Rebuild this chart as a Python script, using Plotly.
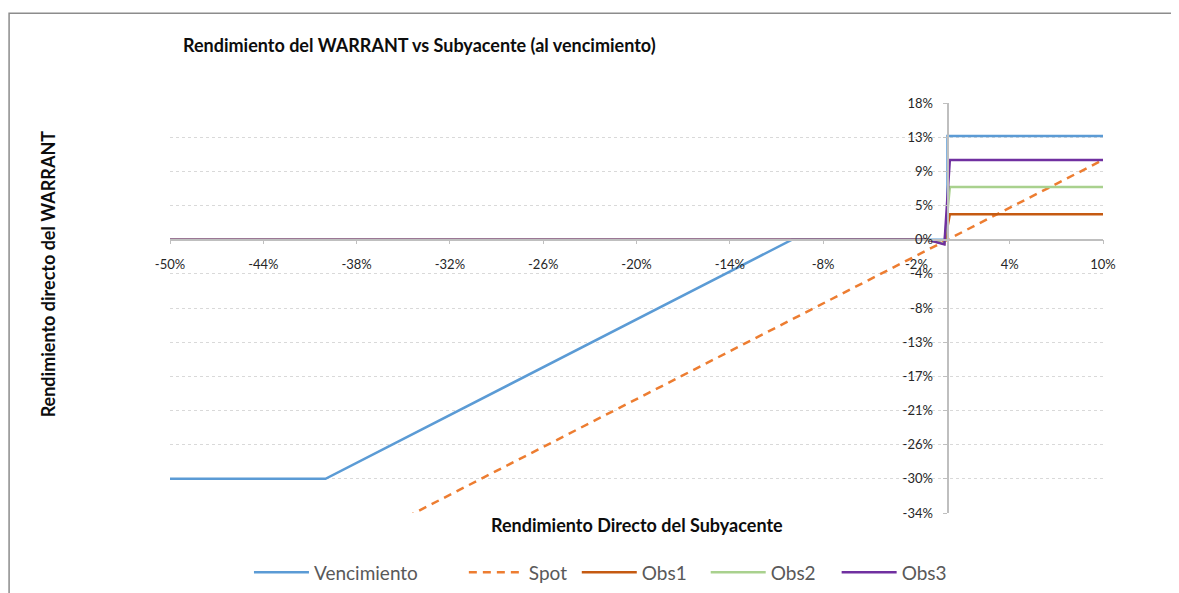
import plotly.graph_objects as go

# ---- data (percent units) ----
venc_x = [-50, -40, -10, 0, 0, 10]
venc_y = [-30, -30, 0, 0, 13, 13]

spot_x = [-50, 10]
spot_y = [-50, 10]

obs_x = [-50, -1.3, -0.2, 0.15, 10]
obs1_y = [0, 0, -0.5, 3.2, 3.2]
obs2_y = [0, 0, -0.5, 6.6, 6.6]
obs3_y = [0, 0, -0.6, 10, 10]

series_names = ["Vencimiento", "Spot", "Obs1", "Obs2", "Obs3"]

x_tickvals = [-50, -44, -38, -32, -26, -20, -14, -8, -2, 4, 10]
x_ticktext = ["-50%", "-44%", "-38%", "-32%", "-26%", "-20%", "-14%", "-8%", "-2%", "4%", "10%"]
y_ticktext = ["-34%", "-30%", "-26%", "-21%", "-17%", "-13%", "-8%", "-4%", "0%", "5%", "9%", "13%", "18%"]

# ---- layout geometry (page body has an 8px margin, so figure coords = screen - 8) ----
OFF = 8
W, H = 1179 - OFF, 593 - OFF
L, R, T, B = 170 - OFF, 1103.5 - OFF, 102.7 - OFF, 512.7 - OFF
step = 30 / 7
y_tickvals = [k * step for k in range(-8, 5)]
y_min, y_max = y_tickvals[0], y_tickvals[-1]
x_min, x_max = -50, 10

FONT = "Lato"
TXT = "#262626"
legend_starts_px = [249, 464, 577, 706, 837]


def px_to_paper_x(px):
    return (px - OFF - L) / (R - L)


def px_to_paper_y(py):
    return (B - (py - OFF)) / (B - T)


legend_ids = ["legend", "legend2", "legend3", "legend4", "legend5"]

fig = go.Figure()
fig.add_trace(go.Scatter(x=venc_x, y=venc_y, mode="lines", name=series_names[0], legend=legend_ids[0],
                         line=dict(color="#5B9BD5", width=2.5)))
fig.add_trace(go.Scatter(x=spot_x, y=spot_y, mode="lines", name=series_names[1], legend=legend_ids[1],
                         line=dict(color="#ED7D31", width=2.5, dash="8px,6px")))
fig.add_trace(go.Scatter(x=obs_x, y=obs1_y, mode="lines", name=series_names[2], legend=legend_ids[2],
                         line=dict(color="#C55A11", width=2.5)))
fig.add_trace(go.Scatter(x=obs_x, y=obs2_y, mode="lines", name=series_names[3], legend=legend_ids[3],
                         line=dict(color="#A9D18E", width=2.5)))
fig.add_trace(go.Scatter(x=obs_x, y=obs3_y, mode="lines", name=series_names[4], legend=legend_ids[4],
                         line=dict(color="#7030A0", width=2.5)))

legend_layouts = {}
for lid, sx in zip(legend_ids, legend_starts_px):
    legend_layouts[lid] = dict(orientation="h", x=px_to_paper_x(sx), xanchor="left",
                               y=px_to_paper_y(572), yanchor="middle",
                               font=dict(family=FONT, size=19, color="#595959"),
                               itemwidth=55, bgcolor="rgba(0,0,0,0)")

fig.update_layout(
    width=W, height=H,
    margin=dict(l=L, r=W - R, t=T, b=H - B, pad=0, autoexpand=False),
    paper_bgcolor="white", plot_bgcolor="white",
    font=dict(family=FONT, color=TXT, size=13),
    title=dict(text="<b>Rendimiento del WARRANT vs Subyacente (al vencimiento)</b>",
               xref="container", yref="container",
               x=(183 - OFF) / W, xanchor="left", y=1 - (46 - OFF) / H, yanchor="middle",
               font=dict(family=FONT, size=18, color="#0D0D0D")),
    xaxis=dict(range=[x_min, x_max], tickvals=x_tickvals, ticktext=x_ticktext,
               showgrid=False, zeroline=False, showline=True,
               linecolor="#BFBFBF", linewidth=1.5,
               ticks="outside", ticklen=4, tickcolor="#BFBFBF",
               anchor="free", position=(0 - y_min) / (y_max - y_min),
               ticklabelstandoff=9,
               tickfont=dict(family=FONT, size=13, color=TXT)),
    yaxis=dict(range=[y_min, y_max], tickvals=y_tickvals, ticktext=y_ticktext,
               showgrid=True, gridcolor="#D9D9D9", gridwidth=1, griddash="3px,3px",
               zeroline=False, showline=True,
               linecolor="#BFBFBF", linewidth=2,
               ticks="outside", ticklen=4, tickcolor="#BFBFBF",
               anchor="free", position=(0 - x_min) / (x_max - x_min),
               ticklabelstandoff=7,
               tickfont=dict(family=FONT, size=13, color=TXT)),
    showlegend=True,
    **legend_layouts,
)

fig.add_annotation(text="<b>Rendimiento Directo del Subyacente</b>",
                   xref="paper", yref="paper",
                   x=px_to_paper_x(637), y=px_to_paper_y(525),
                   xanchor="center", yanchor="middle", showarrow=False,
                   font=dict(family=FONT, size=18, color="#0D0D0D"))
fig.add_annotation(text="<b>Rendimiento directo del WARRANT</b>",
                   xref="paper", yref="paper",
                   x=px_to_paper_x(48), y=px_to_paper_y(274),
                   xanchor="center", yanchor="middle", textangle=-90, showarrow=False,
                   font=dict(family=FONT, size=18, color="#0D0D0D"))

# chart area border (partially visible in the reference)
fig.add_shape(type="rect", xref="paper", yref="paper",
              x0=px_to_paper_x(9), x1=px_to_paper_x(1220),
              y0=px_to_paper_y(640), y1=px_to_paper_y(13),
              line=dict(color="#8C8C8C", width=1.5), fillcolor="rgba(0,0,0,0)", layer="below")

fig.write_html("out.html")
